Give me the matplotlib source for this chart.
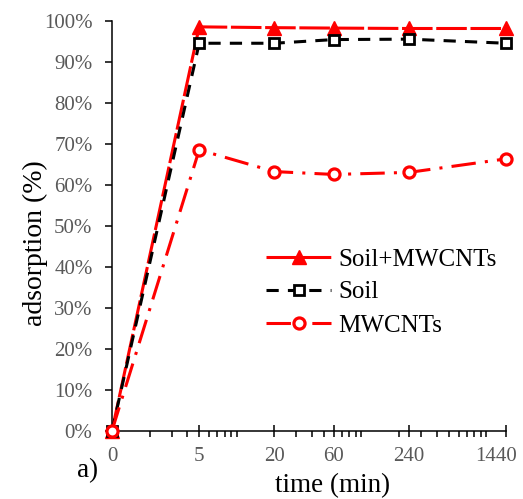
import matplotlib
matplotlib.use("Agg")
import matplotlib.pyplot as plt
from matplotlib.ticker import FixedLocator, FuncFormatter, NullFormatter
from matplotlib.transforms import ScaledTranslation
import numpy as np

plt.rcParams['font.family'] = ['Liberation Serif', 'DejaVu Serif']

# data
time_labels = ['0', '5', '20', '60', '240', '1440']
x_pos = [1, 5, 20, 60, 240, 1440]          # position on log axis ("0" sits at 1)
soil_mwcnts = [0.0, 98.5, 98.3, 98.2, 98.1, 98.1]
soil = [0.0, 94.5, 94.5, 95.4, 95.5, 94.5]
mwcnts = [0.0, 68.5, 63.2, 62.5, 63.0, 66.3]
y_ticks = [0, 10, 20, 30, 40, 50, 60, 70, 80, 90, 100]

W, H = 523, 499
fig = plt.figure(figsize=(W / 100, H / 100), dpi=100)
l, r, t, b = 112, 506, 20.7, 430.7
ax = fig.add_axes([l / W, 1 - b / H, (r - l) / W, (b - t) / H])

red = '#FF0000'
lw = 2.2
ax.plot(x_pos, soil_mwcnts, color=red, lw=lw, dashes=(10, 1.2), marker='^',
        ms=10, mfc=red, mec=red, clip_on=False, label='Soil+MWCNTs', zorder=3)
ax.plot(x_pos, soil, color='black', lw=lw, dashes=(4, 3), marker='s',
        ms=7.2, mfc='white', mec='black', mew=2.0, clip_on=False, label='Soil', zorder=4)
ax.plot(x_pos, mwcnts, color=red, lw=lw, dashes=(8, 3, 1, 3), marker='o',
        ms=8, mfc='white', mec=red, mew=2.3, clip_on=False, label='MWCNTs', zorder=5)

ax.set_xscale('log')
ax.set_xlim(1, 1440)
ax.set_ylim(0, 100)

ax.xaxis.set_major_locator(FixedLocator(x_pos))
ax.set_xticklabels(time_labels)
minor = []
for dec in [1, 10, 100, 1000]:
    for m in range(1, 10):
        v = dec * m
        if 1 < v < 1440 and v not in x_pos:
            minor.append(v)
ax.xaxis.set_minor_locator(FixedLocator(minor))
ax.xaxis.set_minor_formatter(NullFormatter())

ax.yaxis.set_major_locator(FixedLocator(y_ticks))
ax.yaxis.set_major_formatter(FuncFormatter(lambda v, p: f'{v:.0f}%'))
ax.yaxis.set_minor_locator(FixedLocator([]))

for s in ['top', 'right']:
    ax.spines[s].set_visible(False)
for s in ['left', 'bottom']:
    ax.spines[s].set_linewidth(1.1)
    ax.spines[s].set_color('black')

ax.tick_params(axis='x', which='major', direction='inout', length=8, width=1.1,
               labelsize=15, labelcolor='#595959', pad=8)
ax.tick_params(axis='x', which='minor', direction='out', length=4, width=1.1)
ax.tick_params(axis='y', which='major', direction='out', length=5, width=1.1,
               labelsize=15, labelcolor='#595959', pad=9)

# last x label sits shifted left so it stays inside the figure
last = ax.get_xticklabels()[-1]
last.set_transform(last.get_transform() + ScaledTranslation(-10 / 100, 0, fig.dpi_scale_trans))

fig.text(333 / W, 1 - 486 / H, 'time (min)', ha='center', va='center', fontsize=19.5)
fig.text(35 / W, 1 - 243 / H, 'adsorption (%)', ha='center', va='center', rotation=90, fontsize=20)
fig.text(88 / W, 1 - 471 / H, 'a)', ha='center', va='center', fontsize=19.5)

leg = ax.legend(loc='upper left', bbox_to_anchor=(266 / W, 1 - 248 / H), bbox_transform=fig.transFigure,
                frameon=False, fontsize=18, handlelength=2.6, handletextpad=0.3,
                labelspacing=0.42, numpoints=1, borderaxespad=0, borderpad=0)

fig.savefig('out.png', dpi=100)
